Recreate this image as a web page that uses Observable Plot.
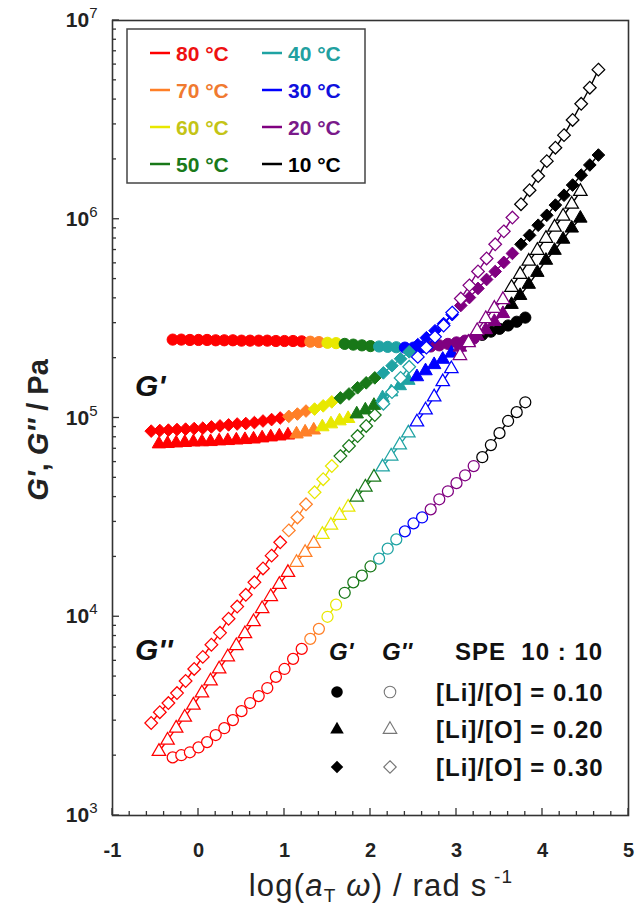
<!DOCTYPE html>
<html><head><meta charset="utf-8">
<script src="https://cdn.jsdelivr.net/npm/d3@7"></script>
<script src="https://cdn.jsdelivr.net/npm/@observablehq/plot@0.6"></script>
<style>body{margin:0;background:#fff}#chart{width:638px;height:905px}</style>
</head><body><div id="chart"></div>
<script>
// Temperatures and colours
const temps = [80, 70, 60, 50, 40, 30, 20, 10];
const tempColors = ["#ff0000", "#ff7f27", "#e8e800", "#187818", "#1fa3a3", "#0000ff", "#800080", "#000000"];
const tempTextColors = ["#ee1111", "#f07a30", "#c4c416", "#1a7a1a", "#22a0a0", "#1010dd", "#7a1a8a", "#000000"];

// [Li]/[O] = 0.10 (circles)
const x010 = [-0.3,-0.2,-0.1,0,0.1,0.2,0.3,0.4,0.5,0.6,0.7,0.8,0.9,1,1.1,1.2,1.3,1.4,1.5,1.6,1.7,1.8,1.9,2,2.1,2.2,2.3,2.4,2.5,2.6,2.7,2.8,2.9,3,3.1,3.2,3.3,3.4,3.5,3.6,3.7,3.8];
const seg010 = [16, 2, 2, 4, 3, 3, 6, 6]; // points per temperature (80 → 10 °C)
const Gp010 = [248000,248000,247000,247000,247000,246000,246000,246000,245000,245000,245000,245000,244000,244000,244000,243000,242000,241000,239000,238000,236000,234000,232000,230000,229000,228000,227000,226000,226000,227000,229000,232000,236000,240000,245000,251000,262000,272000,281000,292000,305000,320000];
const Gpp010 = [1960,2010,2080,2200,2340,2540,2750,3020,3350,3680,3990,4380,4980,5460,6140,6890,7740,8690,10000,11500,13200,14900,16100,17900,19600,22000,24500,26900,29500,31600,34700,39000,42800,47000,51500,57300,63500,73100,83900,96600,107000,120000];

// [Li]/[O] = 0.20 (triangles)
const x020 = [-0.46,-0.36,-0.26,-0.16,-0.06,0.04,0.14,0.24,0.34,0.44,0.54,0.64,0.74,0.84,0.94,1.04,1.14,1.24,1.34,1.44,1.54,1.64,1.74,1.84,1.94,2.04,2.14,2.24,2.34,2.44,2.54,2.64,2.74,2.84,2.94,3.04,3.14,3.24,3.34,3.44,3.54,3.64,3.74,3.84,3.94,4.04,4.14,4.24,4.34,4.44];
const seg020 = [16, 3, 4, 3, 4, 5, 6, 9];
const Gp020 = [74000,74300,74800,75200,75700,75800,76000,76600,76900,77400,77800,78300,79300,80200,81100,82000,83000,84900,86900,90200,93300,96600,99300,104700,109600,115600,126200,135200,145200,154500,161100,172600,185400,197200,211800,227000,242100,259400,278000,305500,335000,372400,413000,469900,539500,620900,696600,792500,901600,1011600];
const Gpp020 = [2100,2390,2750,3120,3590,4130,4750,5460,6280,7140,8210,9440,10970,12620,14520,16680,18750,21040,23380,25950,28840,32360,35560,39900,44870,50360,56620,64270,73110,83950,95500,109600,127600,152000,177000,206000,239000,275000,316000,356000,394000,454000,528000,614000,697000,801000,912000,1035000,1190000,1380000];

// [Li]/[O] = 0.30 (diamonds)
const x030 = [-0.55,-0.45,-0.35,-0.25,-0.15,-0.05,0.05,0.15,0.25,0.35,0.45,0.55,0.65,0.75,0.85,0.95,1.05,1.15,1.25,1.35,1.45,1.55,1.65,1.75,1.85,1.95,2.05,2.15,2.25,2.35,2.45,2.55,2.65,2.75,2.85,2.95,3.05,3.15,3.25,3.35,3.45,3.55,3.65,3.75,3.85,3.95,4.05,4.15,4.25,4.35,4.45,4.55,4.65];
const seg030 = [16, 3, 3, 5, 4, 5, 7, 10];
const Gp030 = [85900,86500,86900,87500,87900,88500,88900,90200,91200,92300,93300,93800,94800,96600,98200,100000,101900,104700,108400,110900,115100,120500,126200,132100,141900,150300,159200,168700,183200,198600,215300,233900,253500,274800,298500,331100,368100,403600,448700,497700,545800,606700,673000,748200,829800,933300,1047000,1178000,1321000,1486000,1667000,1875000,2104000];
const Gpp030 = [2920,3310,3680,4130,4750,5460,6280,7230,8300,9770,11250,12900,14900,17500,20300,23700,27200,31600,36800,42300,49200,57300,64300,72300,81100,91200,103500,118000,135000,159000,181000,203000,226000,256000,292000,339000,399000,465000,546000,635000,748000,869000,1020000,1190000,1400000,1650000,1960000,2290000,2650000,3160000,3810000,4590000,5660000];

// Axis ticks
const xMajor = [-1, 0, 1, 2, 3, 4, 5];
const xMinor = d3.range(-1, 5.001, 0.2).map(v => Math.round(v * 10) / 10).filter(v => !xMajor.includes(v));
const yMajor = [1e3, 1e4, 1e5, 1e6, 1e7];
const yMinor = [3, 4, 5, 6].flatMap(e => [2,3,4,5,6,7,8,9].map(m => m * 10 ** e));

const FONT = "'Liberation Sans', Arial, sans-serif";

function expand(segs) {
  const out = [];
  segs.forEach((n, i) => { for (let j = 0; j < n; j++) out.push(temps[i]); });
  return out;
}
function rowsOf(xs, segs, ys) {
  const T = expand(segs);
  return xs.map((x, i) => ({x, G: ys[i], T: T[i]}));
}
function seriesMarks(rows, symbol, filled, r) {
  return [
    Plot.line(rows, {x: "x", y: "G", z: "T", stroke: "T", strokeWidth: 1.4}),
    Plot.dot(rows, {x: "x", y: "G", symbol, r, stroke: "T", fill: filled ? "T" : "white", strokeWidth: filled ? 1 : 1.25})
  ];
}

const s010p = rowsOf(x010, seg010, Gp010), s010pp = rowsOf(x010, seg010, Gpp010);
const s020p = rowsOf(x020, seg020, Gp020), s020pp = rowsOf(x020, seg020, Gpp020);
const s030p = rowsOf(x030, seg030, Gp030), s030pp = rowsOf(x030, seg030, Gpp030);

const chart = Plot.plot({
  width: 638, height: 905,
  marginLeft: 112, marginRight: 10, marginTop: 20, marginBottom: 90,
  style: {fontFamily: FONT, background: "white", color: "#222"},
  x: {domain: [-1, 5]},
  y: {type: "log", domain: [1e3, 1e7]},
  color: {domain: temps, range: tempColors},
  marks: [
    Plot.axisX(xMajor, {tickSize: 0, tickPadding: 27, label: null, fontSize: 20, fontWeight: "bold", fill: "#222", tickFormat: d => String(d)}),
    Plot.axisY(yMajor, {tickSize: 0, tickPadding: 15, label: null, fontSize: 21, fontWeight: "bold", fill: "#222", tickFormat: d => "10|" + Math.round(Math.log10(d))}),
    ...seriesMarks(s010p, "circle", true, 5.6),
    ...seriesMarks(s010pp, "circle", false, 5.5),
    ...seriesMarks(s020p, "triangle", true, 5),
    ...seriesMarks(s020pp, "triangle", false, 5),
    ...seriesMarks(s030p, "diamond2", true, 5.7),
    ...seriesMarks(s030pp, "diamond2", false, 5.7),
    Plot.frame({stroke: "#333", strokeWidth: 1.6})
  ]
});
document.getElementById("chart").append(chart);

const svg = d3.select(chart);
const sx = chart.scale("x"), sy = chart.scale("y");
const [yBottom] = sy.range, xLeft = sx.range[0];

// inward ticks, drawn through Plot's own scales
const ticks = svg.append("g").attr("stroke", "#333").attr("stroke-width", 1.3);
xMinor.forEach(v => ticks.append("line").attr("x1", sx.apply(v)).attr("x2", sx.apply(v)).attr("y1", yBottom).attr("y2", yBottom - 4));
xMajor.forEach(v => ticks.append("line").attr("x1", sx.apply(v)).attr("x2", sx.apply(v)).attr("y1", yBottom).attr("y2", yBottom - 7));
yMinor.forEach(v => ticks.append("line").attr("y1", sy.apply(v)).attr("y2", sy.apply(v)).attr("x1", xLeft).attr("x2", xLeft + 4));
yMajor.forEach(v => ticks.append("line").attr("y1", sy.apply(v)).attr("y2", sy.apply(v)).attr("x1", xLeft).attr("x2", xLeft + 7));

// superscript exponents on y tick labels
svg.selectAll('g[aria-label="y-axis tick label"] text').each(function() {
  const t = d3.select(this);
  const s = t.text();
  if (!s.includes("|")) return;
  const [base, exp] = s.split("|");
  t.text("");
  t.append("tspan").text(base);
  t.append("tspan").attr("dy", "-0.6em").attr("font-size", 15).attr("font-weight", "normal").text(exp);
});

// Axis titles
const xt = svg.append("text").attr("x", 381).attr("y", 896).attr("text-anchor", "middle")
  .attr("font-size", 31).attr("letter-spacing", 1.2).attr("fill", "#222").attr("font-family", FONT);
xt.append("tspan").text("log(");
xt.append("tspan").attr("font-style", "italic").text("a");
xt.append("tspan").attr("font-size", 19).attr("dy", 6).text("T");
xt.append("tspan").attr("dy", -6).text(" ");
xt.append("tspan").attr("font-style", "italic").text("ω");
xt.append("tspan").text(") / rad s");
xt.append("tspan").attr("font-size", 19).attr("dy", -13).text(" -1");

const yt = svg.append("text").attr("transform", "translate(48,430) rotate(-90)").attr("text-anchor", "middle")
  .attr("font-size", 29).attr("font-weight", "bold").attr("fill", "#222").attr("font-family", FONT);
yt.append("tspan").attr("font-style", "italic").text("G'");
yt.append("tspan").text(", ");
yt.append("tspan").attr("font-style", "italic").text("G''");
yt.append("tspan").text(" / Pa");

// In-plot annotations
const ann = svg.append("g").attr("text-anchor", "start").attr("font-family", FONT).attr("font-size", 30).attr("font-weight", "bold").attr("font-style", "italic").attr("fill", "#111");
ann.append("text").attr("x", 135).attr("y", 396).text("G'");
ann.append("text").attr("x", 135).attr("y", 660).text("G''");

// Temperature legend box
const lg = svg.append("g").attr("text-anchor", "start").attr("font-family", FONT).attr("font-weight", "bold").attr("font-size", 21);
lg.append("rect").attr("x", 127).attr("y", 29).attr("width", 238).attr("height", 154).attr("fill", "white").attr("stroke", "#444").attr("stroke-width", 1.5);
temps.forEach((t, i) => {
  const col = i < 4 ? 0 : 1, row = i % 4;
  const cy = 53 + row * 37;
  const x0 = col ? 262 : 150;
  lg.append("line").attr("x1", x0).attr("x2", x0 + 20).attr("y1", cy).attr("y2", cy).attr("stroke", tempColors[i]).attr("stroke-width", 2.5);
  lg.append("text").attr("x", x0 + 26).attr("y", cy + 7.5).attr("fill", tempTextColors[i]).text(t + " °C");
});

// Symbol legend
const sl = svg.append("g").attr("text-anchor", "start").attr("font-family", FONT).attr("font-weight", "bold").attr("fill", "#111");
sl.append("text").attr("x", 329).attr("y", 660).attr("font-size", 24).attr("font-style", "italic").text("G'");
sl.append("text").attr("x", 382).attr("y", 660).attr("font-size", 24).attr("font-style", "italic").text("G''");
sl.append("text").attr("x", 455).attr("y", 660).attr("font-size", 24).attr("letter-spacing", 1).text("SPE  10 : 10");
const legendRows = [
  {sym: d3.symbolCircle, label: "[Li]/[O] = 0.10", size: 105},
  {sym: d3.symbolTriangle, label: "[Li]/[O] = 0.20", size: 80},
  {sym: d3.symbolDiamond2, label: "[Li]/[O] = 0.30", size: 100}
];
legendRows.forEach((d, i) => {
  const cy = 692 + i * 37.5;
  sl.append("path").attr("d", d3.symbol(d.sym, d.size)()).attr("transform", `translate(337,${cy})`).attr("fill", "#000");
  sl.append("path").attr("d", d3.symbol(d.sym, d.size)()).attr("transform", `translate(390,${cy})`).attr("fill", "white").attr("stroke", "#777").attr("stroke-width", 1.1);
  sl.append("text").attr("x", 436).attr("y", cy + 8.5).attr("font-size", 24).attr("letter-spacing", 1).text(d.label);
});
</script></body></html>
